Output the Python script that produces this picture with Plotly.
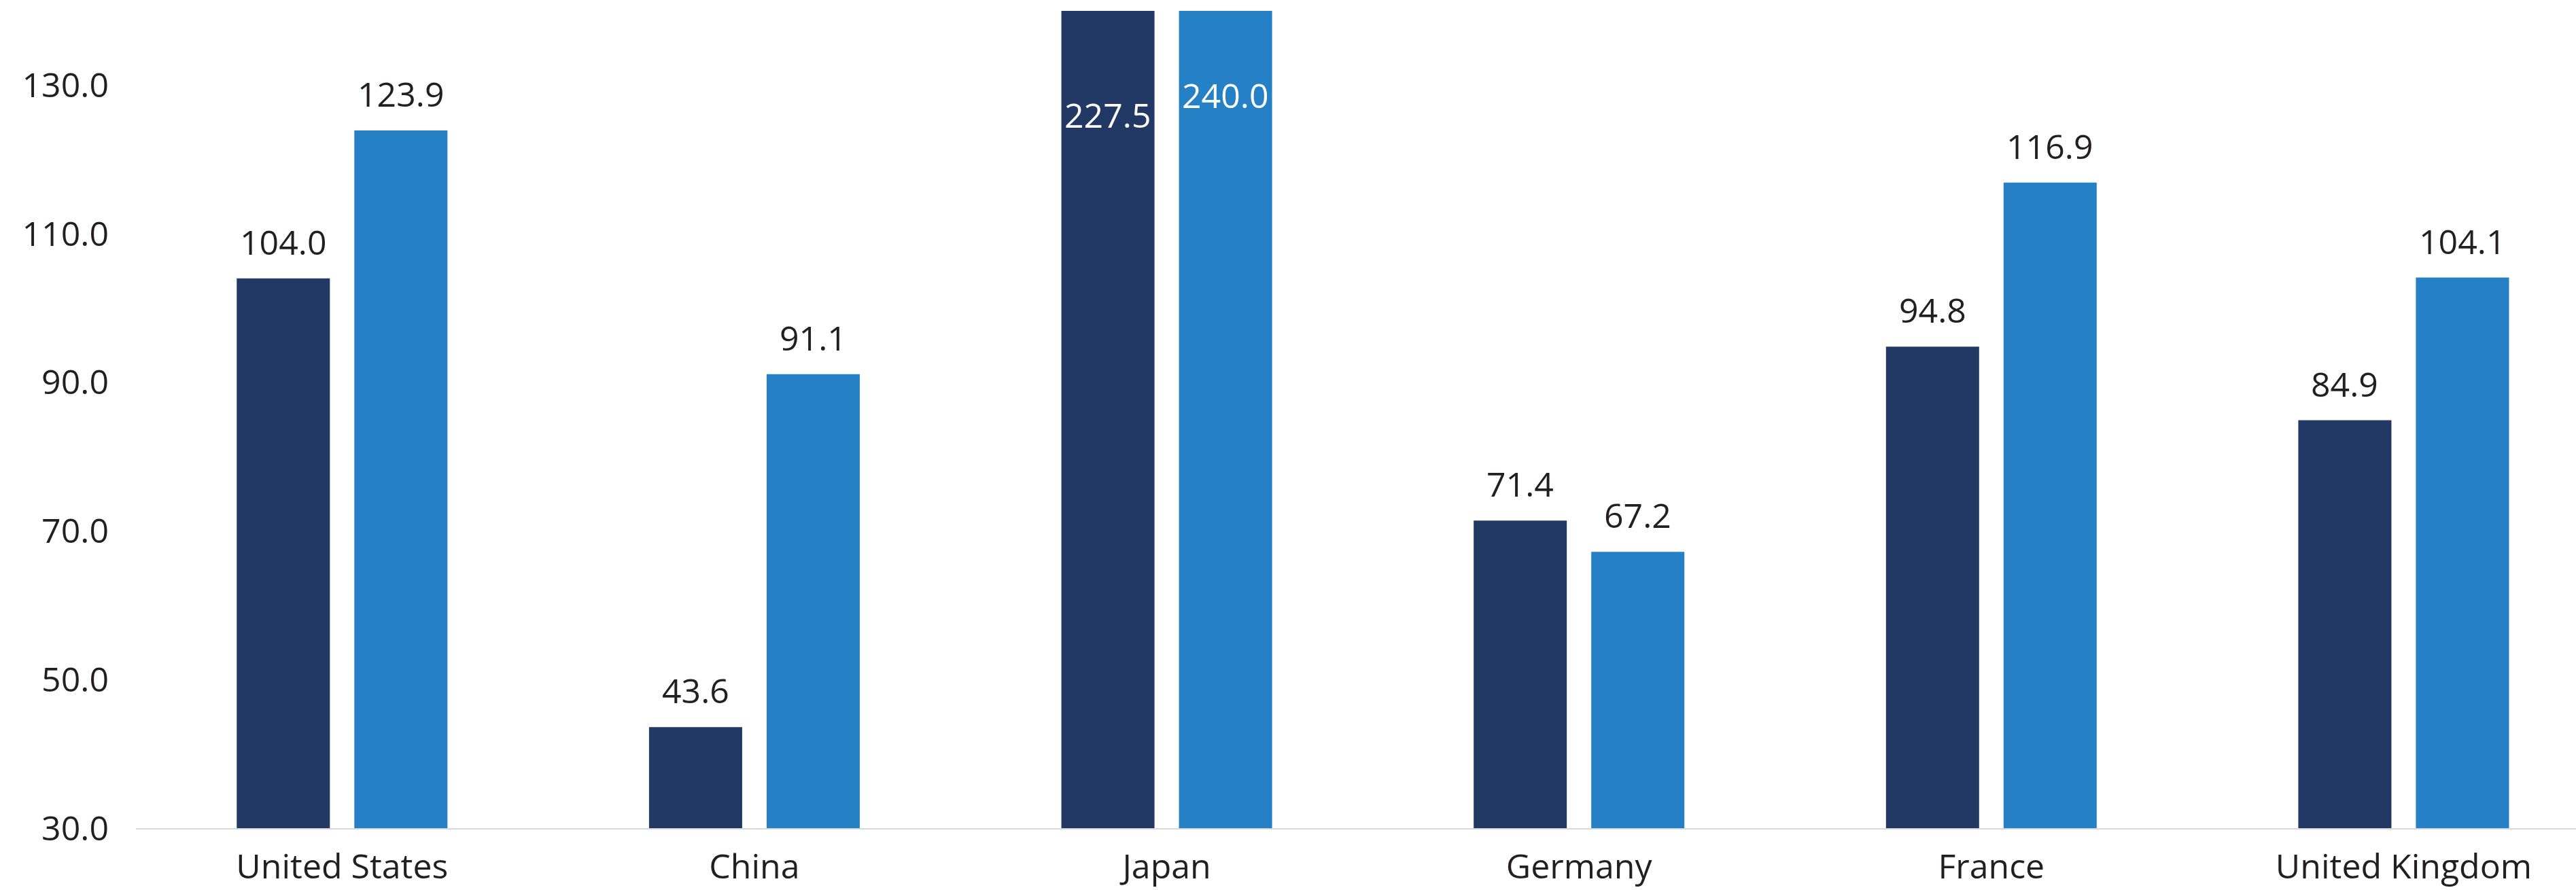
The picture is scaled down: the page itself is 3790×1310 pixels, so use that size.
import plotly.graph_objects as go

# Country comparison: two series per country, y axis capped at 140
countries = ["United States", "China", "Japan", "Germany", "France", "United Kingdom"]
series_a = [104.0, 43.6, 227.5, 71.4, 94.8, 84.9]
series_b = [123.9, 91.1, 240.0, 67.2, 116.9, 104.1]
y_ticks = [30, 50, 70, 90, 110, 130]

DARK = "#213964"
LIGHT = "#2680C5"
TEXT = "#231F20"
FONT = "Open Sans"

Y_MIN, Y_MAX = 30, 140
BAR_GAP = 0.4296
GROUP_GAP = 0.208
# horizontal offset of each bar from its category centre, in pixels
SLOT_PX = 173
# value-label heights used when a bar runs past the top of the axis
CLIPPED_LABEL_Y = [126.0, 128.7]

fig = go.Figure()
fig.add_trace(go.Bar(x=countries, y=series_a, marker_color=DARK, marker_line_width=0,
                     name="A", cliponaxis=True))
fig.add_trace(go.Bar(x=countries, y=series_b, marker_color=LIGHT, marker_line_width=0,
                     name="B", cliponaxis=True))

annotations = []
for si, vals in enumerate([series_a, series_b]):
    shift = -SLOT_PX / 2 if si == 0 else SLOT_PX / 2
    for c, v in zip(countries, vals):
        label = f"{v:.1f}"
        if v > Y_MAX:
            annotations.append(dict(
                x=c, y=CLIPPED_LABEL_Y[si], xref="x", yref="y", text=label,
                showarrow=False, xshift=shift, yanchor="middle",
                font=dict(family=FONT, size=50, color="white")))
        else:
            annotations.append(dict(
                x=c, y=v, xref="x", yref="y", text=label,
                showarrow=False, xshift=shift, yanchor="bottom", yshift=18,
                font=dict(family=FONT, size=50, color=TEXT)))

fig.update_layout(
    width=3790, height=1310,
    margin=dict(l=200, r=0, t=16, b=91),
    paper_bgcolor="white", plot_bgcolor="white",
    barmode="group", bargap=BAR_GAP, bargroupgap=GROUP_GAP,
    showlegend=False,
    font=dict(family=FONT, color=TEXT),
    annotations=annotations,
)
fig.update_xaxes(
    range=[-0.5, 5.418], showgrid=False, zeroline=False,
    showline=True, linecolor="#D9D9D9", linewidth=2,
    ticks="", ticklabelstandoff=12, automargin=False,
    tickfont=dict(family=FONT, size=50, color=TEXT),
)
fig.update_yaxes(
    range=[Y_MIN, Y_MAX], showgrid=False, zeroline=False, showline=False,
    tickvals=y_ticks, ticktext=[f"{t:.1f}" for t in y_ticks],
    ticks="", ticklabelstandoff=39, automargin=False,
    tickfont=dict(family=FONT, size=50, color=TEXT),
)

fig.write_html("out.html")
